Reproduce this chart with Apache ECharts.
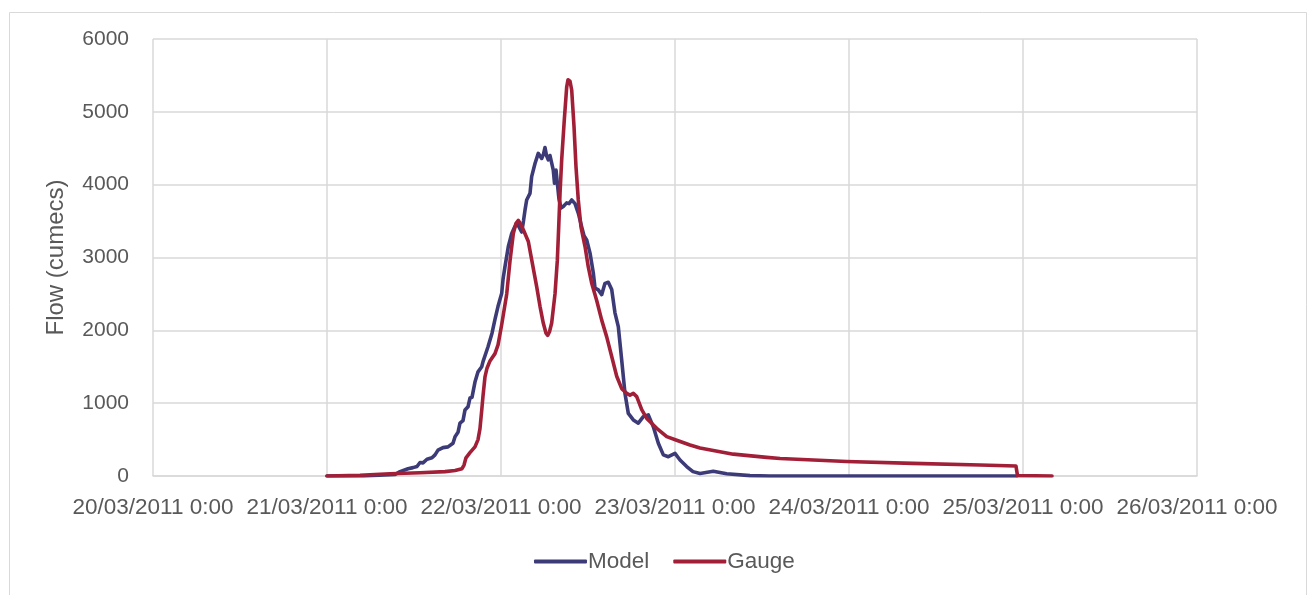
<!DOCTYPE html>
<html>
<head>
<meta charset="utf-8">
<script src="https://cdn.jsdelivr.net/npm/echarts@6/dist/echarts.min.js"></script>
<style>
html,body{margin:0;padding:0;background:#fff;}
#chart{width:1310px;height:595px;}
</style>
</head>
<body>
<div id="chart"></div>
<script>
// x values are hours since 20/03/2011 0:00
const tickLabels = ['20/03/2011 0:00','21/03/2011 0:00','22/03/2011 0:00','23/03/2011 0:00','24/03/2011 0:00','25/03/2011 0:00','26/03/2011 0:00'];

const modelHours = [24.0,28.97,33.38,34.07,35.17,35.86,36.41,36.83,37.24,37.79,38.48,38.9,39.31,40.0,40.69,41.38,41.66,42.07,42.34,42.76,43.03,43.45,43.72,44.0,44.41,44.83,45.34,45.52,46.21,46.76,47.17,47.59,48.1,48.28,48.55,49.01,49.48,49.79,50.17,50.48,50.85,51.1,51.31,51.54,51.79,52.0,52.23,52.69,53.14,53.38,53.61,53.86,54.07,54.28,54.52,54.76,54.99,55.21,55.38,55.59,55.79,56.0,56.28,56.59,57.06,57.38,57.75,58.21,58.66,59.13,59.45,59.82,60.28,60.73,60.97,61.42,61.89,62.34,62.8,63.27,63.72,64.18,64.65,65.1,65.56,66.25,66.94,67.63,68.32,69.01,69.7,70.39,71.08,72.0,72.69,73.61,74.48,75.45,77.28,79.13,82.34,85.1,119.13];
const modelFlow = [0,0,20,60,100,115,130,185,180,230,250,290,355,390,400,450,540,600,725,760,905,950,1070,1080,1290,1430,1500,1570,1775,1960,2150,2330,2510,2700,2875,3150,3330,3400,3470,3420,3350,3500,3650,3790,3800,3880,4110,4290,4430,4450,4360,4420,4510,4400,4340,4400,4390,4200,4020,4200,4000,3800,3680,3700,3750,3740,3790,3740,3610,3420,3300,3240,3060,2790,2580,2555,2490,2645,2660,2560,2240,2050,1590,1135,860,770,725,815,840,675,450,290,265,310,220,130,60,35,65,30,5,0,0];

const gaugeHours = [24.0,28.55,32.69,36.83,40.28,41.66,42.62,42.9,43.17,43.72,44.41,44.83,45.1,45.34,45.52,45.79,46.07,46.48,47.17,47.59,48.1,48.79,49.24,49.7,50.07,50.39,50.69,51.08,51.77,52.23,52.92,53.38,53.83,54.21,54.44,54.69,54.99,55.45,55.77,55.96,56.14,56.37,56.73,57.06,57.24,57.38,57.52,57.75,58.07,58.34,58.66,59.03,59.59,60.04,60.5,61.2,61.89,62.58,63.27,63.96,64.65,65.34,65.79,66.25,66.72,67.41,68.1,69.48,70.86,72.23,74.07,75.45,80.04,84.65,86.5,95.68,104.83,114.07,119.03,119.24,124.0];
const gaugeFlow = [0,10,30,45,60,75,100,150,250,320,400,500,650,900,1100,1360,1480,1580,1680,1800,2080,2500,2950,3330,3470,3510,3460,3380,3220,2970,2600,2330,2100,1960,1930,1980,2100,2500,2960,3420,3880,4340,4890,5340,5440,5460,5420,5300,4800,4250,3790,3420,3150,2870,2650,2410,2140,1910,1640,1370,1200,1135,1110,1135,1090,910,790,655,540,490,425,385,300,256,240,200,174,151,137,5,0];

const seriesNames = ['Model','Gauge'];
const seriesColors = ['#3c3b77','#a21f38'];

function pairs(xs, ys){ return xs.map((x,i)=>[x, ys[i]]); }

const chart = echarts.init(document.getElementById('chart'), null, {renderer:'canvas'});
const fontFam = '"Liberation Sans", "DejaVu Sans", sans-serif';
chart.setOption({
  animation:false,
  backgroundColor:'#ffffff',
  graphic:[{
    type:'rect', left:7, top:10,
    shape:{width:1297, height:600},
    style:{fill:'none', stroke:'#d9d9d9', lineWidth:1}
  }],
  grid:{left:153, right:113, top:39, bottom:119, containLabel:false},
  legend:{
    data:seriesNames,
    left:529, top:545,
    itemWidth:53, itemHeight:4, itemGap:24,
    icon:'roundRect',
    textStyle:{color:'#595959', fontSize:22.5, fontFamily:fontFam, padding:[0,0,0,-4]}
  },
  xAxis:{
    type:'value', min:0, max:144, interval:24,
    axisLine:{show:true, lineStyle:{color:'#d9d9d9', width:1.5}},
    axisTick:{show:false},
    splitLine:{show:true, lineStyle:{color:'#d9d9d9', width:1.5}},
    axisLabel:{
      color:'#595959', fontSize:22.5, fontFamily:fontFam, margin:20,
      formatter:(v)=>tickLabels[Math.round(v/24)]
    }
  },
  yAxis:{
    type:'value', min:0, max:6000, interval:1000,
    name:'Flow (cumecs)', nameLocation:'middle', nameGap:85, nameRotate:90,
    nameTextStyle:{color:'#595959', fontSize:24, fontFamily:fontFam},
    axisLine:{show:false}, axisTick:{show:false},
    splitLine:{show:true, lineStyle:{color:'#d9d9d9', width:1.5}},
    axisLabel:{color:'#595959', fontSize:21, fontFamily:fontFam, margin:24,
      formatter:(v)=>String(v)}
  },
  series:[
    {name:seriesNames[0], type:'line', data:pairs(modelHours, modelFlow), showSymbol:false, smooth:false,
     lineStyle:{color:seriesColors[0], width:3.6, join:'round', cap:'round'}, itemStyle:{color:seriesColors[0]}},
    {name:seriesNames[1], type:'line', data:pairs(gaugeHours, gaugeFlow), showSymbol:false, smooth:false,
     lineStyle:{color:seriesColors[1], width:3.6, join:'round', cap:'round'}, itemStyle:{color:seriesColors[1]}}
  ]
});
</script>
</body>
</html>
